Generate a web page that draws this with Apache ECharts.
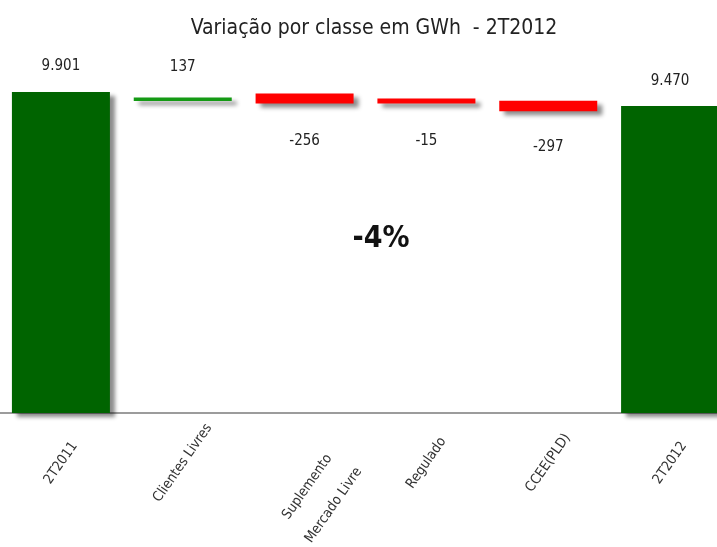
<!DOCTYPE html>
<html>
<head>
<meta charset="utf-8">
<script src="https://cdn.jsdelivr.net/npm/echarts@6/dist/echarts.min.js"></script>
<style>
  html, body { margin: 0; padding: 0; background: #fff; }
  #chartVariacao { width: 717px; height: 547px; }
</style>
</head>
<body>
<div id="chartVariacao"></div>
<script>
// categories
var categorias = ['2T2011', 'Clientes Livres', 'Suplemento\nMercado Livre', 'Regulado', 'CCEE(PLD)', '2T2012']
// values shown in the labels (GWh)
var variacao = [9901, 137, -256, -15, -297, 9470]
// bars as drawn in the picture: invisible base + visible part
var barBase = [0, 9625, 9545, 9545, 9308, 0]
var barSize = [9901, 105, 308, 154, 323, 9470]
var barColors = ['#006400', '#149a14', '#ff0000', '#ff0000', '#ff0000', '#006400']
var labelDist = [18, 23, 30, 30, 28, 17]

var fonte = '"Liberation Sans Narrow", "DejaVu Sans Condensed", sans-serif'

function formatNumber (v) {
  var s = String(Math.abs(v)).replace(/\B(?=(\d{3})+(?!\d))/g, '.')
  return (v < 0 ? '-' : '') + s
}

var chartElement = document.getElementById('chartVariacao')
var chart = echarts.init(chartElement)

// visible bars, colour and label per item
var visiveis = barSize.map(function (v, i) {
  return {
    value: v,
    itemStyle: { color: barColors[i] },
    label: {
      position: variacao[i] < 0 ? 'bottom' : 'top',
      distance: labelDist[i]
    }
  }
})

var option = {
  animation: false,
  title: {
    text: 'Variação por classe em GWh  - 2T2012',
    left: 369,
    top: 13,
    textAlign: 'center',
    textStyle: { fontFamily: fonte, fontSize: 21, fontWeight: 'normal', color: '#222' }
  },
  graphic: [
    {
      type: 'text',
      x: 381,
      y: 239,
      style: {
        text: '-4%',
        align: 'center',
        verticalAlign: 'middle',
        font: 'bold 30px ' + fonte,
        fill: '#111'
      }
    }
  ],
  grid: {
    left: 0,
    right: -14,
    top: 24,
    bottom: 134,
    outerBoundsMode: 'none'
  },
  xAxis: {
    type: 'category',
    data: categorias,
    axisTick: { show: false },
    axisLine: { show: true, lineStyle: { color: '#9c9c9c', width: 2 } },
    axisLabel: {
      interval: 0,
      rotate: 55,
      margin: 50,
      align: 'center',
      verticalAlign: 'middle',
      fontFamily: fonte,
      fontSize: 14,
      color: '#333',
      lineHeight: 16,
      formatter: function (value, index) {
        if (index === 2) {
          // the two-line label sits lower, with wide line gap, in the picture
          var linhas = value.split('\n')
          var pad = '         '
          return '\n\n\n\n' + linhas[0] + pad + '\n\n' + linhas[1] + pad
        }
        return value
      }
    }
  },
  yAxis: {
    type: 'value',
    min: 0,
    max: 12000,
    show: false,
    splitLine: { show: false }
  },
  series: [
    {
      name: 'base',
      type: 'bar',
      stack: 'cascata',
      barWidth: 98,
      silent: true,
      itemStyle: { color: 'rgba(0,0,0,0)' },
      data: barBase
    },
    {
      name: 'variacao',
      type: 'bar',
      stack: 'cascata',
      barWidth: 98,
      itemStyle: {
        shadowColor: 'rgba(0,0,0,0.45)',
        shadowBlur: 4,
        shadowOffsetX: 5,
        shadowOffsetY: 4
      },
      label: {
        show: true,
        fontFamily: fonte,
        fontSize: 15,
        color: '#222',
        formatter: function (p) { return formatNumber(variacao[p.dataIndex]) }
      },
      data: visiveis
    }
  ]
}

chart.setOption(option, true)
</script>
</body>
</html>
